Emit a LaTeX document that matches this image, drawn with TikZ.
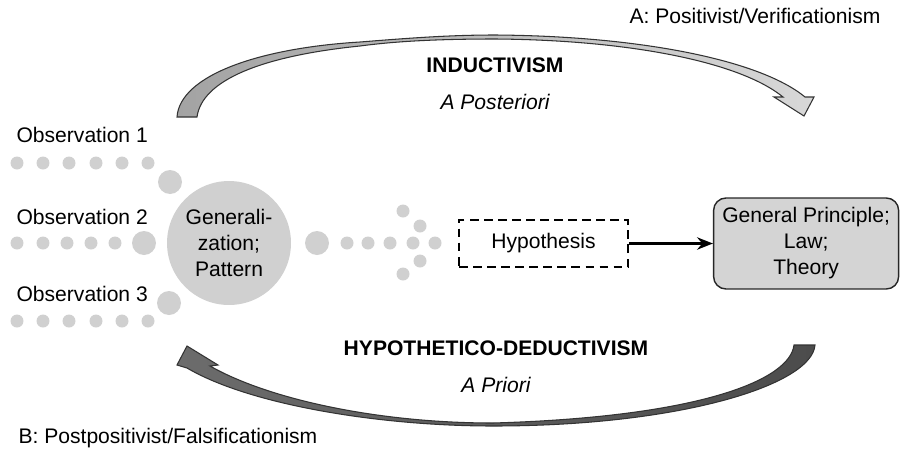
\documentclass[tikz,border=0pt]{standalone}
\usepackage{fontspec}
\setmainfont{Liberation Sans}
\usepackage{xcolor}
\usetikzlibrary{arrows.meta, positioning}
\definecolor{dotgray}{HTML}{D0D0D0}
\definecolor{boxgray}{HTML}{D4D4D4}
\definecolor{indleft}{HTML}{A3A3A3}
\definecolor{indright}{HTML}{D8D8D8}
\definecolor{dedleft}{HTML}{6C6C6C}
\definecolor{dedright}{HTML}{4C4C4C}

\begin{document}
\begin{tikzpicture}[>=Stealth, thick, x=0.02cm, y=-0.02cm,
    font=\fontsize{12}{14.8}\selectfont,
    greydot/.style={fill=dotgray},
    heading/.style={font=\fontsize{12}{14.8}\selectfont\bfseries},
    subhead/.style={font=\fontsize{12}{14.8}\selectfont\itshape},
    obslabel/.style={anchor=west},
    arcline/.style={draw=black!80, line width=0.6pt}]
    \useasboundingbox (0,0) rectangle (902,450);

    % Khối 1: mũi tên cong phía trên (inductivism)
    \shadedraw[arcline, left color=indleft, right color=indright]
        (177,117) .. controls (180,75) and (260,48) .. (360,42)
        .. controls (410,38) and (450,35) .. (495,35)
        .. controls (640,36) and (760,60) .. (805,97)
        -- (814,97) -- (804,116) -- (774,97) -- (783,97)
        .. controls (740,62) and (630,40) .. (495,39)
        .. controls (430,39) and (390,42) .. (360,46)
        .. controls (262,56) and (202,80) .. (197,117) -- cycle;
    \node[heading] (ind) at (495,65) {INDUCTIVISM};
    \node[subhead, below=5pt of ind] (apost) {A Posteriori};
    \node (posA) at (755,16) {A: Positivist/Verificationism};

    % Khối 2: quan sát và các chấm
    \node[obslabel] (obs1) at (10,135) {Observation 1};
    \node[obslabel] (obs2) at (10,217) {Observation 2};
    \node[obslabel] (obs3) at (10,294) {Observation 3};
    \foreach \x in {17,43,69,96,122,148} {
        \fill[greydot] (\x,163) circle[radius=0.13cm];
        \fill[greydot] (\x,321) circle[radius=0.13cm];
    }
    \foreach \x in {17,43,67,91,115}
        \fill[greydot] (\x,243) circle[radius=0.13cm];
    \foreach \x/\y in {170/182, 144/243, 169/303, 317/243}
        \fill[greydot] (\x,\y) circle[radius=0.24cm];
    \node[circle, fill=dotgray, minimum size=2.48cm, inner sep=0pt, align=center] (gen) at (229,243)
        {Generali-\\zation;\\Pattern};
    \foreach \x/\y in {347/243, 368/243, 390/243, 413/243, 435/243, 403/211, 420/226, 420/261, 403/274}
        \fill[greydot] (\x,\y) circle[radius=0.13cm];

    % Khối 3: giả thuyết và nguyên lý chung
    \node[draw, dash pattern=on 5pt off 3pt, line width=1.1pt, minimum width=3.38cm, minimum height=0.94cm] (hyp) at (543.5,243.5) {Hypothesis};
    \node[draw=black!85, fill=boxgray, rounded corners=7pt, line width=0.8pt, align=center,
        minimum width=3.7cm, minimum height=1.82cm, right=1.68cm of hyp] (gp) {General Principle;\\Law;\\Theory};
    \draw[-{Stealth[length=9pt, width=7pt]}, line width=1.4pt] (hyp) -- (gp);

    % Khối 4: mũi tên cong phía dưới (hypothetico-deductivism)
    \shadedraw[arcline, left color=dedleft, right color=dedright]
        (815,345) .. controls (812,385) and (680,426) .. (493,426)
        .. controls (380,426) and (250,405) .. (187,368)
        -- (177,365) -- (187,346) -- (218,365) -- (210,366)
        .. controls (270,400) and (380,423) .. (493,423)
        .. controls (700,417) and (790,380) .. (794,345) -- cycle;
    \node[heading] (hypded) at (496,348) {HYPOTHETICO-DEDUCTIVISM};
    \node[subhead, below=5pt of hypded] (aprio) {A Priori};
    \node[anchor=west] (posB) at (12,438) {B: Postpositivist/Falsificationism};

\end{tikzpicture}
\end{document}
